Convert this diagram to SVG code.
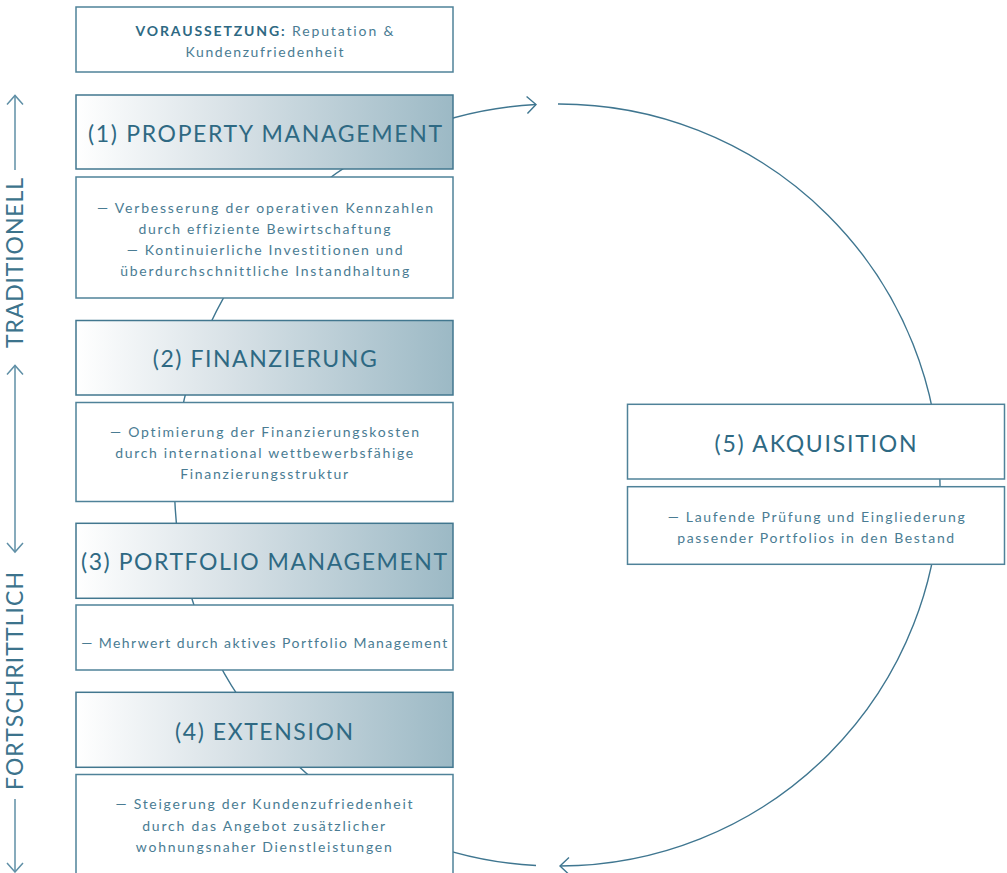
<svg xmlns="http://www.w3.org/2000/svg" width="1007" height="873" viewBox="0 0 1007 873">
<style>
text{font-variant-ligatures:none;font-feature-settings:"liga" 0,"clig" 0}
.box{fill:#ffffff;stroke:#4f8299;stroke-width:1.5}
.hdr{fill:url(#grad);stroke:#42778f;stroke-width:1.5}
.ht{font-family:Lato,"Open Sans",sans-serif;font-size:23px;fill:#2e6983;text-anchor:middle}
.dt{font-family:Lato,"Open Sans",sans-serif;font-size:14px;fill:#4a7c93;text-anchor:middle}
.ax{font-family:Lato,"Open Sans",sans-serif;font-size:23px;fill:#3c738c;text-anchor:middle}
.con{fill:none;stroke:#3f7690;stroke-width:1.4}
.axl{fill:none;stroke:#5f8fa6;stroke-width:1.5}
</style>
<defs>
<linearGradient id="grad" x1="0" y1="0" x2="1" y2="0">
<stop offset="0" stop-color="#ffffff"/>
<stop offset="0.4" stop-color="#d9e2e7"/>
<stop offset="1" stop-color="#9cb9c5"/>
</linearGradient>
<marker id="arr" markerUnits="userSpaceOnUse" markerWidth="24" markerHeight="24" viewBox="-12 -12 24 24" refX="0" refY="0" orient="auto">
<path d="M-9,-8.5 L0,0 L-9,8.5" fill="none" stroke="#3f7690" stroke-width="1.4"/>
</marker>
<marker id="axarr" markerUnits="userSpaceOnUse" markerWidth="24" markerHeight="24" viewBox="-12 -12 24 24" refX="0" refY="0" orient="auto">
<path d="M-9,-8 L0,0 L-9,8" fill="none" stroke="#5f8fa6" stroke-width="1.5"/>
</marker>
</defs>

<g id="connectors">
<path class="con" d="M558,104 A381,381 0 0 1 560,866" marker-end="url(#arr)"/>
<path class="con" d="M536,865.5 A381,381 0 0 1 536,104.5" marker-end="url(#arr)"/>
</g>

<g id="axis">
<line class="axl" x1="15" y1="170" x2="15" y2="95.5" marker-end="url(#axarr)"/>
<text class="ax" transform="translate(23,263) rotate(-90)" textLength="170" lengthAdjust="spacing">TRADITIONELL</text>
<line class="axl" x1="15" y1="459" x2="15" y2="365.5" marker-end="url(#axarr)"/>
<line class="axl" x1="15" y1="459" x2="15" y2="552" marker-end="url(#axarr)"/>
<text class="ax" transform="translate(23,681) rotate(-90)" textLength="218" lengthAdjust="spacing">FORTSCHRITTLICH</text>
<line class="axl" x1="15" y1="799" x2="15" y2="872" marker-end="url(#axarr)"/>
</g>

<g id="voraussetzung">
<rect class="box" x="76" y="7" width="377" height="65"/>
<text class="dt" x="264.5" y="36" textLength="258" lengthAdjust="spacing"><tspan font-weight="bold" fill="#2e6983">VORAUSSETZUNG:</tspan> Reputation &amp;</text>
<text class="dt" x="264.5" y="57" textLength="158" lengthAdjust="spacing">Kundenzufriedenheit</text>
</g>

<g id="property-management">
<rect class="hdr" x="76" y="95" width="377" height="74"/>
<text class="ht" x="265" y="142" textLength="354" lengthAdjust="spacing">(1) PROPERTY MANAGEMENT</text>
</g>
<g id="property-management-desc">
<rect class="box" x="76" y="177" width="377" height="121"/>
<text class="dt" x="265" y="212.5" textLength="336" lengthAdjust="spacing">— Verbesserung der operativen Kennzahlen</text>
<text class="dt" x="264.5" y="233.5" textLength="252" lengthAdjust="spacing">durch effiziente Bewirtschaftung</text>
<text class="dt" x="264.7" y="255" textLength="276" lengthAdjust="spacing">— Kontinuierliche Investitionen und</text>
<text class="dt" x="264.7" y="276" textLength="289" lengthAdjust="spacing">überdurchschnittliche Instandhaltung</text>
</g>

<g id="finanzierung">
<rect class="hdr" x="76" y="320.5" width="377" height="74.5"/>
<text class="ht" x="264.7" y="366.7" textLength="224" lengthAdjust="spacing">(2) FINANZIERUNG</text>
</g>
<g id="finanzierung-desc">
<rect class="box" x="76" y="402.5" width="377" height="99"/>
<text class="dt" x="264.5" y="437" textLength="309" lengthAdjust="spacing">— Optimierung der Finanzierungskosten</text>
<text class="dt" x="264.2" y="458.3" textLength="298" lengthAdjust="spacing">durch international wettbewerbsfähige</text>
<text class="dt" x="264.2" y="479.3" textLength="168" lengthAdjust="spacing">Finanzierungsstruktur</text>
</g>

<g id="portfolio-management">
<rect class="hdr" x="76" y="523.3" width="377" height="75"/>
<text class="ht" x="264" y="570" textLength="366" lengthAdjust="spacing">(3) PORTFOLIO MANAGEMENT</text>
</g>
<g id="portfolio-management-desc">
<rect class="box" x="76" y="605" width="377" height="65"/>
<text class="dt" x="264.2" y="647.7" textLength="366" lengthAdjust="spacing">— Mehrwert durch aktives Portfolio Management</text>
</g>

<g id="extension">
<rect class="hdr" x="76" y="692.3" width="377" height="75"/>
<text class="ht" x="264" y="740" textLength="178" lengthAdjust="spacing">(4) EXTENSION</text>
</g>
<g id="extension-desc">
<rect class="box" x="76" y="774.5" width="377" height="110"/>
<text class="dt" x="264" y="809.3" textLength="297" lengthAdjust="spacing">— Steigerung der Kundenzufriedenheit</text>
<text class="dt" x="263.7" y="830.7" textLength="243" lengthAdjust="spacing">durch das Angebot zusätzlicher</text>
<text class="dt" x="263.8" y="851.7" textLength="256" lengthAdjust="spacing">wohnungsnaher Dienstleistungen</text>
</g>

<g id="akquisition">
<rect class="box" x="627.5" y="404.3" width="377" height="74.7"/>
<text class="ht" x="815.5" y="451.7" textLength="202" lengthAdjust="spacing">(5) AKQUISITION</text>
</g>
<g id="akquisition-desc">
<rect class="box" x="627.5" y="486.7" width="377" height="77.6"/>
<text class="dt" x="816.3" y="521.7" textLength="297" lengthAdjust="spacing">— Laufende Prüfung und Eingliederung</text>
<text class="dt" x="815.7" y="542.7" textLength="277" lengthAdjust="spacing">passender Portfolios in den Bestand</text>
</g>
</svg>
